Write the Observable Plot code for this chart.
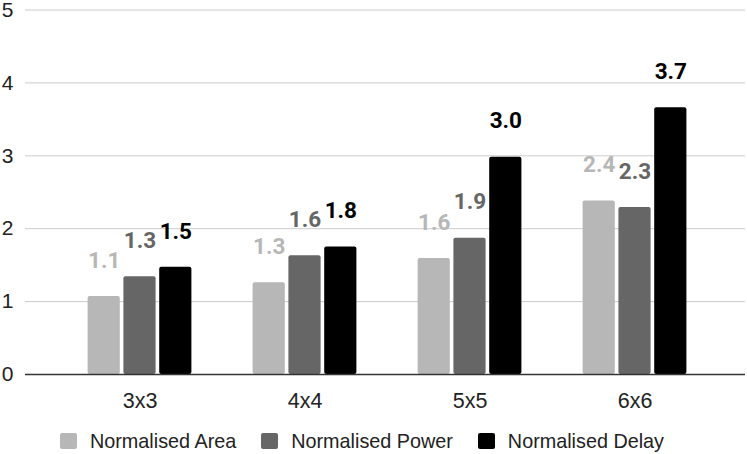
<!DOCTYPE html>
<html>
<head>
<meta charset="utf-8">
<script src="https://cdn.jsdelivr.net/npm/d3@7"></script>
<script src="https://cdn.jsdelivr.net/npm/@observablehq/plot@0.6"></script>
<style>
  body { margin: 0; background: #fff; }
  #chart svg { display: block; }
  .legend { display: flex; align-items: center; height: 26px; padding-left: 60px;
            font-family: "Liberation Sans", Arial, sans-serif; font-size: 19.8px; color: #222; }
  .legend .item { display: flex; align-items: center; margin-right: 25px; }
  .legend .sw { width: 17px; height: 16px; border-radius: 2px; margin-right: 13px; }
</style>
</head>
<body>
<div id="chart"></div>
<script>
const categories = ["3x3", "4x4", "5x5", "6x6"];
const seriesNames = ["Normalised Area", "Normalised Power", "Normalised Delay"];
const seriesColors = ["#b7b7b7", "#666666", "#000000"];
const area  = [1.07, 1.26, 1.59, 2.38];
const power = [1.34, 1.63, 1.87, 2.29];
const delay = [1.47, 1.75, 2.98, 3.66];
const yTicks = [0, 1, 2, 3, 4, 5];

const seriesValues = [area, power, delay];
const offsets = [-35.8, 0, 35.8];

const rows = seriesValues.map((vals, s) =>
  categories.map((c, i) => ({cat: c, value: vals[i], series: seriesNames[s], label: vals[i].toFixed(1)})));

const marks = [
  Plot.ruleY(yTicks.filter(d => d > 0), {stroke: "#cccccc", strokeWidth: 1}),
];
rows.forEach((data, s) => {
  marks.push(Plot.barY(data, {x: "cat", y: "value", fill: seriesColors[s], dx: offsets[s],
    insetLeft: 66.4, insetRight: 66.4, rx: 2}));
});
rows.forEach((data, s) => {
  marks.push(Plot.text(data, {x: "cat", y: "value", text: "label", dx: offsets[s], dy: -36,
    fill: seriesColors[s], fontWeight: "bold", fontSize: 22.5, fontFamily: "Roboto"}));
});
marks.push(Plot.ruleY([0], {stroke: "#333333", strokeWidth: 1.5}));
marks.push(Plot.axisY({ticks: yTicks, tickSize: 0, tickPadding: 12, fontSize: 21, label: null, tickFormat: d => String(d)}));
marks.push(Plot.axisX({tickSize: 0, tickPadding: 17.8, fontSize: 21.5, label: null}));

const chart = Plot.plot({
  width: 747,
  height: 428,
  marginTop: 9.5,
  marginBottom: 54,
  marginLeft: 25,
  marginRight: 2,
  style: {fontFamily: "'Liberation Sans', Arial, sans-serif", color: "#222", background: "#fff", overflow: "visible"},
  x: {domain: categories, range: [55.8, 717.2], padding: 0},
  y: {domain: [0, 5]},
  marks
});
document.getElementById("chart").appendChild(chart);

const legend = d3.select("body").append("div").attr("class", "legend");
seriesNames.forEach((n, i) => {
  const item = legend.append("div").attr("class", "item");
  item.append("div").attr("class", "sw").style("background", seriesColors[i]);
  item.append("span").text(n);
});
</script>
</body>
</html>
